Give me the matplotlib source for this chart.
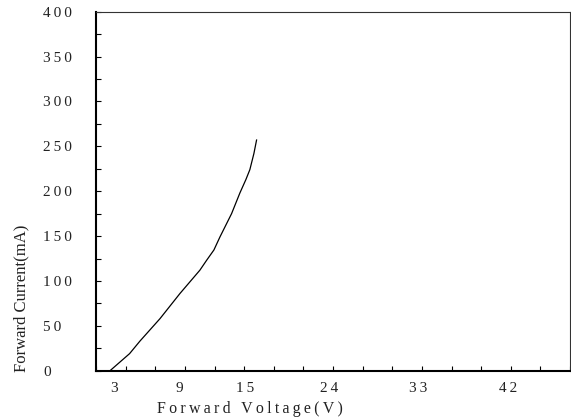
import matplotlib
matplotlib.use("Agg")
import matplotlib.pyplot as plt
from matplotlib.ticker import MultipleLocator

# ─────────────── data ───────────────
# forward voltage (V) vs forward current (mA)
voltage = [1.42, 3.4, 4.45, 6.48, 8.5, 10.52, 11.2, 11.94, 12.55,
           13.73, 14.57, 15.18, 15.58, 15.99, 16.26]
current = [0, 19, 33, 58, 86, 112, 123, 134.5, 149,
           175, 198, 213, 224, 242, 257]

# x labels in the original sit a bit off their ticks
x_tick_text = ["3", "9", "15", "24", "33", "42"]
x_tick_at = [1.8, 8.4, 15.1, 23.6, 32.6, 41.7]
y_tick_vals = [0, 50, 100, 150, 200, 250, 300, 350, 400]

FONT = "Liberation Serif"
TS = "\u2009"  # thin space, the original text is letter-spaced


def spaced(s):
    return TS.join(s)


fig = plt.figure(figsize=(5.71, 4.19), dpi=100)
ax = fig.add_axes([96 / 571, 48.3 / 419, 474 / 571, 359 / 419])

ax.plot(voltage, current, color="black", lw=0.9)

ax.set_xlim(0, 48)
ax.set_ylim(0, 400)

# x: unlabeled inward ticks every 3 V, labels placed as in the original
ax.set_xticks(x_tick_at, [spaced(t) for t in x_tick_text])
ax.xaxis.set_minor_locator(MultipleLocator(3))
ax.tick_params(axis="x", which="major", length=0, pad=8)
ax.tick_params(axis="x", which="minor", direction="in", length=3.6,
               width=0.8, color="black")

ax.set_yticks(y_tick_vals, [spaced(str(v)) for v in y_tick_vals])
ax.yaxis.set_minor_locator(MultipleLocator(25))
ax.tick_params(axis="y", which="both", direction="in", length=3.6,
               width=0.8, color="black", pad=38)
for lbl in ax.get_yticklabels():
    lbl.set_ha("left")

for lbl in ax.get_xticklabels() + ax.get_yticklabels():
    lbl.set_fontfamily(FONT)
    lbl.set_fontsize(11)
    lbl.set_color("#222222")

for side in ("left", "bottom"):
    ax.spines[side].set_linewidth(1.5)
    ax.spines[side].set_color("black")
for side in ("top", "right"):
    ax.spines[side].set_linewidth(0.8)
    ax.spines[side].set_color("#333333")

fig.text(250 / 571, 1 - 409 / 419, spaced("Forward Voltage(V)"),
         ha="center", va="center", fontsize=11.5, family=FONT,
         color="#222222")
fig.text(21.7 / 571, 1 - 298 / 419, "Forward Current(mA)",
         ha="center", va="center", rotation=90, fontsize=12, family=FONT,
         color="#222222")

plt.savefig("out.png")
plt.close(fig)
